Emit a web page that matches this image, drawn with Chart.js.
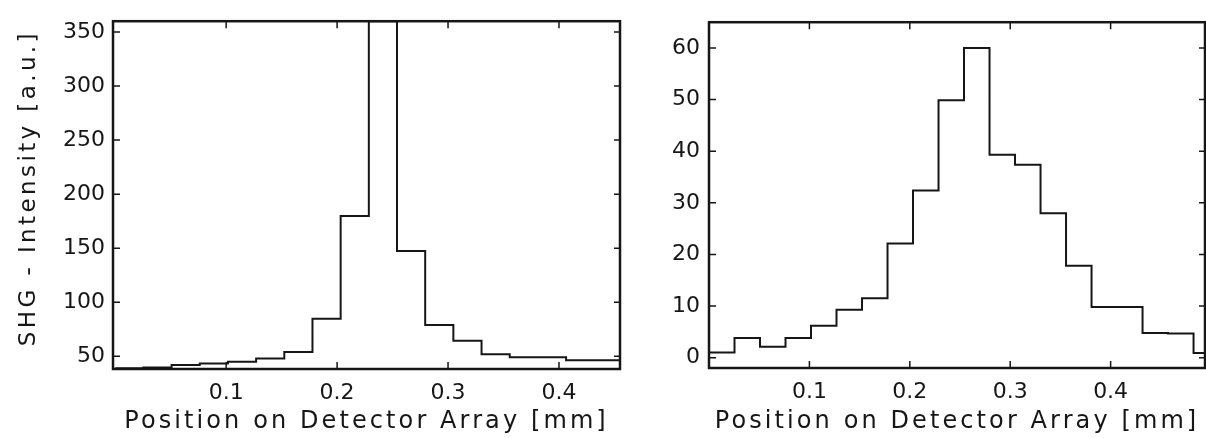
<!DOCTYPE html>
<html>
<head>
<meta charset="utf-8">
<script src="https://cdn.jsdelivr.net/npm/chart.js@4/dist/chart.umd.min.js"></script>
<style>
  html,body{margin:0;padding:0;background:#fff;}
  #wrap{position:relative;width:1206px;height:438px;overflow:hidden;}
  #c1{position:absolute;left:0;top:0;}
  #c2{position:absolute;left:640px;top:0;}
</style>
</head>
<body>
<div id="wrap">
  <canvas id="c1" width="640" height="438"></canvas>
  <canvas id="c2" width="566" height="438"></canvas>
</div>
<script>
// ---- data ----
// bin edges of the detector pixels [mm]
const leftEdges  = [0, 0.0254, 0.0508, 0.0762, 0.1016, 0.127, 0.1524, 0.1778, 0.2032, 0.2286, 0.254, 0.2794, 0.3048, 0.3302, 0.3556, 0.381, 0.4064, 0.4318, 0.4572];
const leftValues = [39, 39.5, 41.8, 43.4, 44.8, 47.9, 53.9, 84.8, 179.7, 360, 147.3, 78.8, 64.3, 51.8, 49.1, 49.1, 46.4, 46.4];

const rightEdges  = [0, 0.0254, 0.0508, 0.0762, 0.1016, 0.127, 0.1524, 0.1778, 0.2032, 0.2286, 0.254, 0.2794, 0.3048, 0.3302, 0.3556, 0.381, 0.4064, 0.4318, 0.4572, 0.4826, 0.494];
const rightValues = [1.0, 3.8, 2.1, 3.8, 6.2, 9.3, 11.5, 22.1, 32.4, 49.9, 60, 39.3, 37.4, 28.0, 17.8, 9.8, 9.8, 4.8, 4.7, 0.9];

const leftXTicks  = [0.1, 0.2, 0.3, 0.4];
const leftYTicks  = [50, 100, 150, 200, 250, 300, 350];
const rightXTicks = [0.1, 0.2, 0.3, 0.4];
const rightYTicks = [0, 10, 20, 30, 40, 50, 60];

const xTitle = 'Position on Detector Array [mm]';
const yTitle = 'SHG - Intensity [a.u.]';

// ---- helpers ----
function stepPoints(edges, values){
  const pts = values.map((v,i)=>({x:edges[i], y:v}));
  pts.push({x:edges[values.length], y:values[values.length-1]});
  return pts;
}

const INK = '#161616';
const FONT = 'DejaVu Sans';

// wider letter spacing for the axis titles (as in the typeset original)
const spacingPlugin = {
  id:'titleSpacing',
  afterLayout(chart){
    Object.values(chart.scales).forEach(s=>{
      if (s._wrappedTitle) return;
      const orig = s.drawTitle;
      s.drawTitle = function(){
        const ctx = this.ctx;
        ctx.save();
        if (this.axis === 'x') {
          ctx.letterSpacing = '3.1px';
          ctx.translate(0, 2);
        } else {
          ctx.letterSpacing = '3.4px';
          ctx.translate(0, -7);
        }
        orig.apply(this, arguments);
        ctx.restore();
      };
      s._wrappedTitle = true;
    });
  }
};

const framePlugin = {
  id:'frame',
  afterDraw(chart){
    const {ctx, chartArea:{left,right,top,bottom}, scales:{x,y}} = chart;
    ctx.save();
    ctx.strokeStyle = INK;
    ctx.lineWidth = 1.5;
    const L = 7;
    ctx.beginPath();
    x.ticks.forEach(t=>{
      const px = x.getPixelForValue(t.value);
      ctx.moveTo(px,bottom); ctx.lineTo(px,bottom-L);
      ctx.moveTo(px,top); ctx.lineTo(px,top+L);
    });
    y.ticks.forEach(t=>{
      const py = y.getPixelForValue(t.value);
      ctx.moveTo(left,py); ctx.lineTo(left+L,py);
      ctx.moveTo(right,py); ctx.lineTo(right-L+1,py);
    });
    ctx.stroke();
    ctx.lineWidth = 2.5;
    ctx.strokeRect(left,top,right-left,bottom-top);
    ctx.restore();
  }
};

function makeChart(id, cfg){
  return new Chart(document.getElementById(id), {
    type:'line',
    data:{datasets:[{
      data: stepPoints(cfg.edges, cfg.values),
      stepped:'before',
      borderColor: INK,
      borderWidth: 2,
      pointRadius: 0,
      fill:false,
      clip: 1
    }]},
    options:{
      responsive:false,
      animation:false,
      layout:{padding:{top:cfg.padTop, right:cfg.padRight, left:0, bottom:0}},
      plugins:{legend:{display:false}, tooltip:{enabled:false}},
      scales:{
        x:{
          type:'linear',
          min:cfg.xMin, max:cfg.xMax,
          afterBuildTicks: s => { s.ticks = cfg.xTicks.map(v=>({value:v})); },
          afterFit: s => { s.height = cfg.xAxisH; },
          grid:{display:false, drawTicks:false},
          border:{display:false},
          ticks:{padding:11, color:INK, font:{family:FONT, size:22}, callback: v => String(v), maxRotation:0},
          title:{display:true, text:xTitle, color:INK, font:{family:FONT, size:24, lineHeight:1.1}, padding:{top:0, bottom:5}}
        },
        y:{
          type:'linear',
          min:cfg.yMin, max:cfg.yMax,
          afterBuildTicks: s => { s.ticks = cfg.yTicks.map(v=>({value:v})); },
          afterFit: s => { s.width = cfg.yAxisW; },
          grid:{display:false, drawTicks:false},
          border:{display:false},
          ticks:{padding:cfg.yTickPad, color:INK, font:{family:FONT, size:22}, callback: v => String(v)},
          title:{display:cfg.yTitle, text:yTitle, color:INK, font:{family:FONT, size:23, lineHeight:1.1}, padding:{top:16, bottom:0}}
        }
      }
    },
    plugins:[spacingPlugin, framePlugin]
  });
}

makeChart('c1', {
  edges:leftEdges, values:leftValues,
  xMin:-0.002, xMax:0.455, yMin:38.2, yMax:360,
  xTicks:leftXTicks, yTicks:leftYTicks,
  padTop:15, padRight:20, xAxisH:69, yAxisW:113, yTickPad:8, yTitle:true
});
makeChart('c2', {
  edges:rightEdges, values:rightValues,
  xMin:0, xMax:0.494, yMin:-2, yMax:65,
  xTicks:rightXTicks, yTicks:rightYTicks,
  padTop:14, padRight:1, xAxisH:70, yAxisW:69, yTickPad:9, yTitle:false
});
</script>
</body>
</html>
